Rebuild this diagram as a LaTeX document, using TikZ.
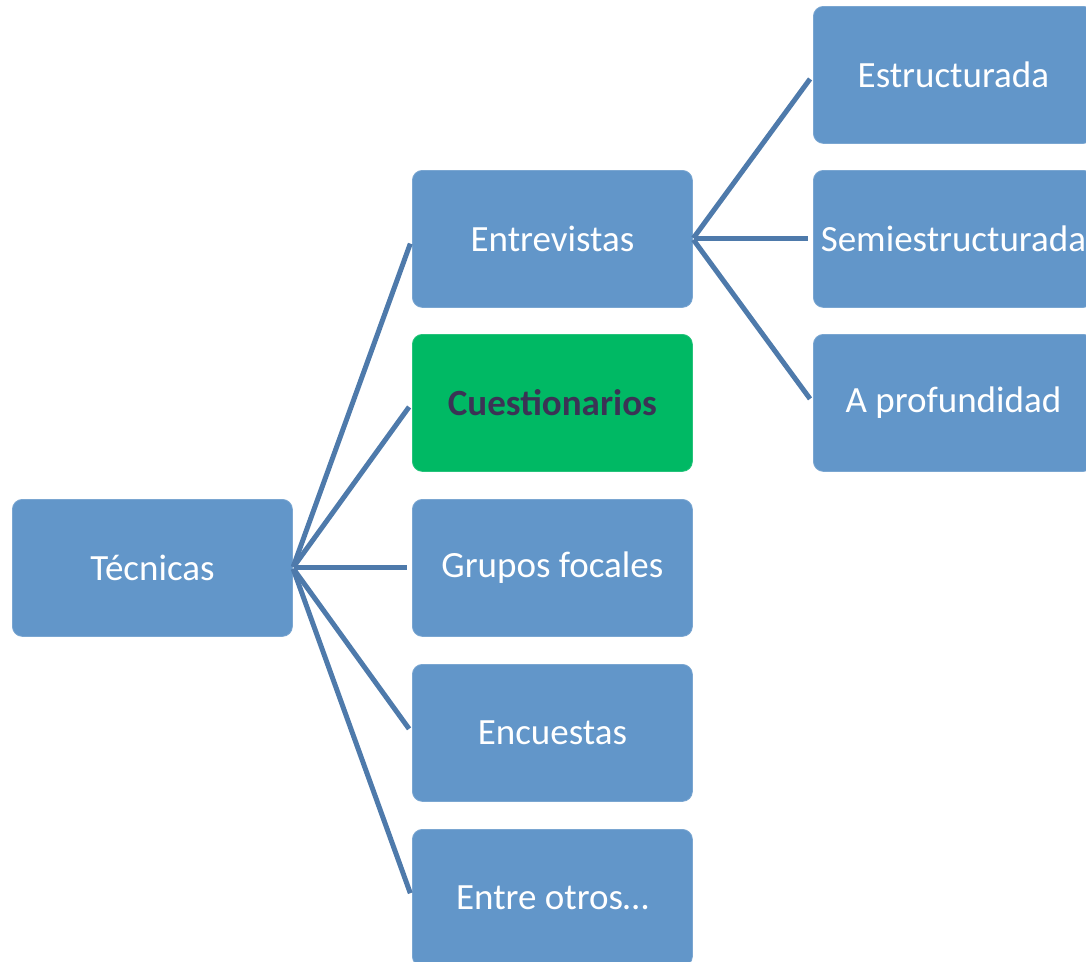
\documentclass[tikz,border=0pt]{standalone}
\usepackage{fontspec}
\setmainfont{Carlito}
\definecolor{boxblue}{HTML}{6296C9}
\definecolor{boxgreen}{HTML}{00B964}
\definecolor{linkblue}{HTML}{4E7AAB}
\definecolor{darktext}{HTML}{3B3355}
\begin{document}
\begin{tikzpicture}[x=1pt,y=-1pt,
  card/.style={rectangle, rounded corners=10pt, fill=boxblue, draw=boxblue!85!white, line width=0.8pt,
    minimum width=280pt, minimum height=137pt, inner sep=0pt, text=white,
    font=\fontsize{37}{44}\selectfont, anchor=north west},
  hicard/.style={card, fill=boxgreen, draw=boxgreen!85!white, text=darktext, font=\fontsize{37}{44}\selectfont\bfseries},
  link/.style={draw=linkblue, line width=5pt, shorten >=5pt, shorten <=1pt}]
\useasboundingbox (0,0) rectangle (1086,961);
\node[card] (tec) at (12,499) {Técnicas};
\node[card] (ent) at (412,170) {Entrevistas};
\node[hicard] (cue) at (412,334) {Cuestionarios};
\node[card] (gru) at (412,499) {Grupos focales};
\node[card] (enc) at (412,664) {Encuestas};
\node[card] (otr) at (412,829) {Entre otros…};
\node[card] (est) at (813,6) {Estructurada};
\node[card] (sem) at (813,170) {Semiestructurada};
\node[card] (pro) at (813,334) {A profundidad};
\foreach \t in {ent,cue,gru,enc,otr}
  \draw[link] (tec.east) -- (\t.west);
\foreach \t in {est,sem,pro}
  \draw[link] (ent.east) -- (\t.west);
\end{tikzpicture}
\end{document}
